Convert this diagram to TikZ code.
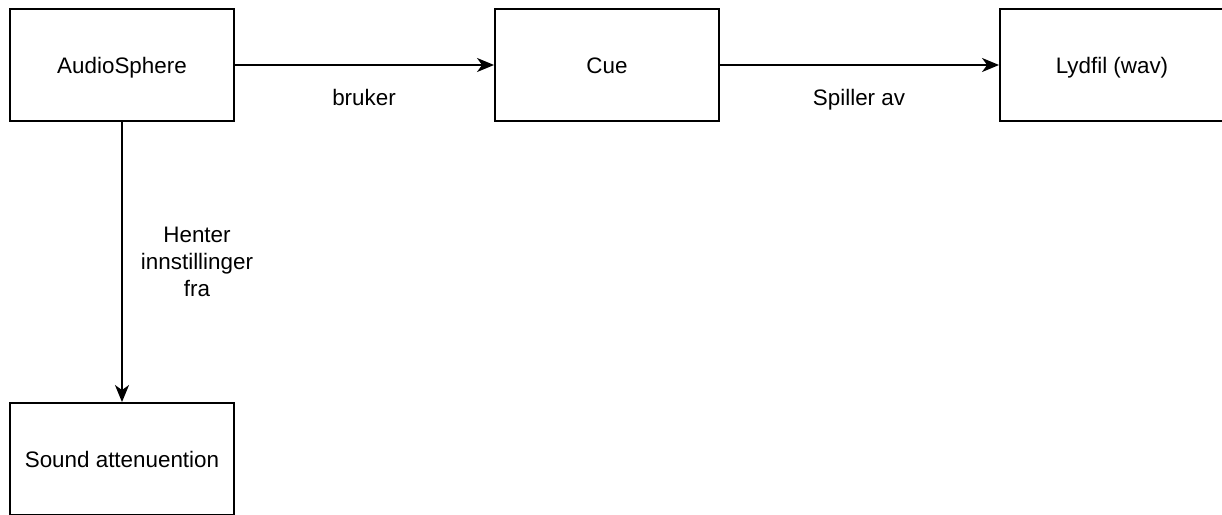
\documentclass[tikz,border=0pt]{standalone}
\usepackage{fontspec}
\setmainfont{Liberation Sans}
\usetikzlibrary{arrows.meta}
\begin{document}
\begin{tikzpicture}[x=1pt,y=-1pt,
  every node/.style={font=\fontsize{22.4}{27}\selectfont},
  box/.style={draw, line width=1.9pt, minimum width=224pt, minimum height=112pt, inner sep=0pt, fill=white, text height=16pt, text depth=0pt},
  conn/.style={line width=1.9pt, -{Stealth[length=17pt,width=14pt,inset=5pt]}},
  lbl/.style={inner sep=0pt, text height=16pt, text depth=0pt},
  mlbl/.style={align=center, inner sep=0pt}]
\fill[white] (0,0) rectangle (1222,514);
\clip (0,0) rectangle (1222,514);
\node[box] (audio) at (122,65) {AudioSphere};
\node[box] (cue) at (607,65) {Cue};
\node[box] (lyd) at (1112,65) {Lydfil (wav)};
\node[box] (sound) at (122,459) {Sound attenuention};
\draw[conn] (audio) -- (cue);
\draw[conn] (cue) -- (lyd);
\draw[conn] (audio) -- (sound);
\node[lbl] (l1) at (364,97) {bruker};
\node[lbl] (l2) at (859,97) {Spiller av};
\node[mlbl] (l3) at (197,262) {Henter\\innstillinger\\fra};
\end{tikzpicture}
\end{document}
